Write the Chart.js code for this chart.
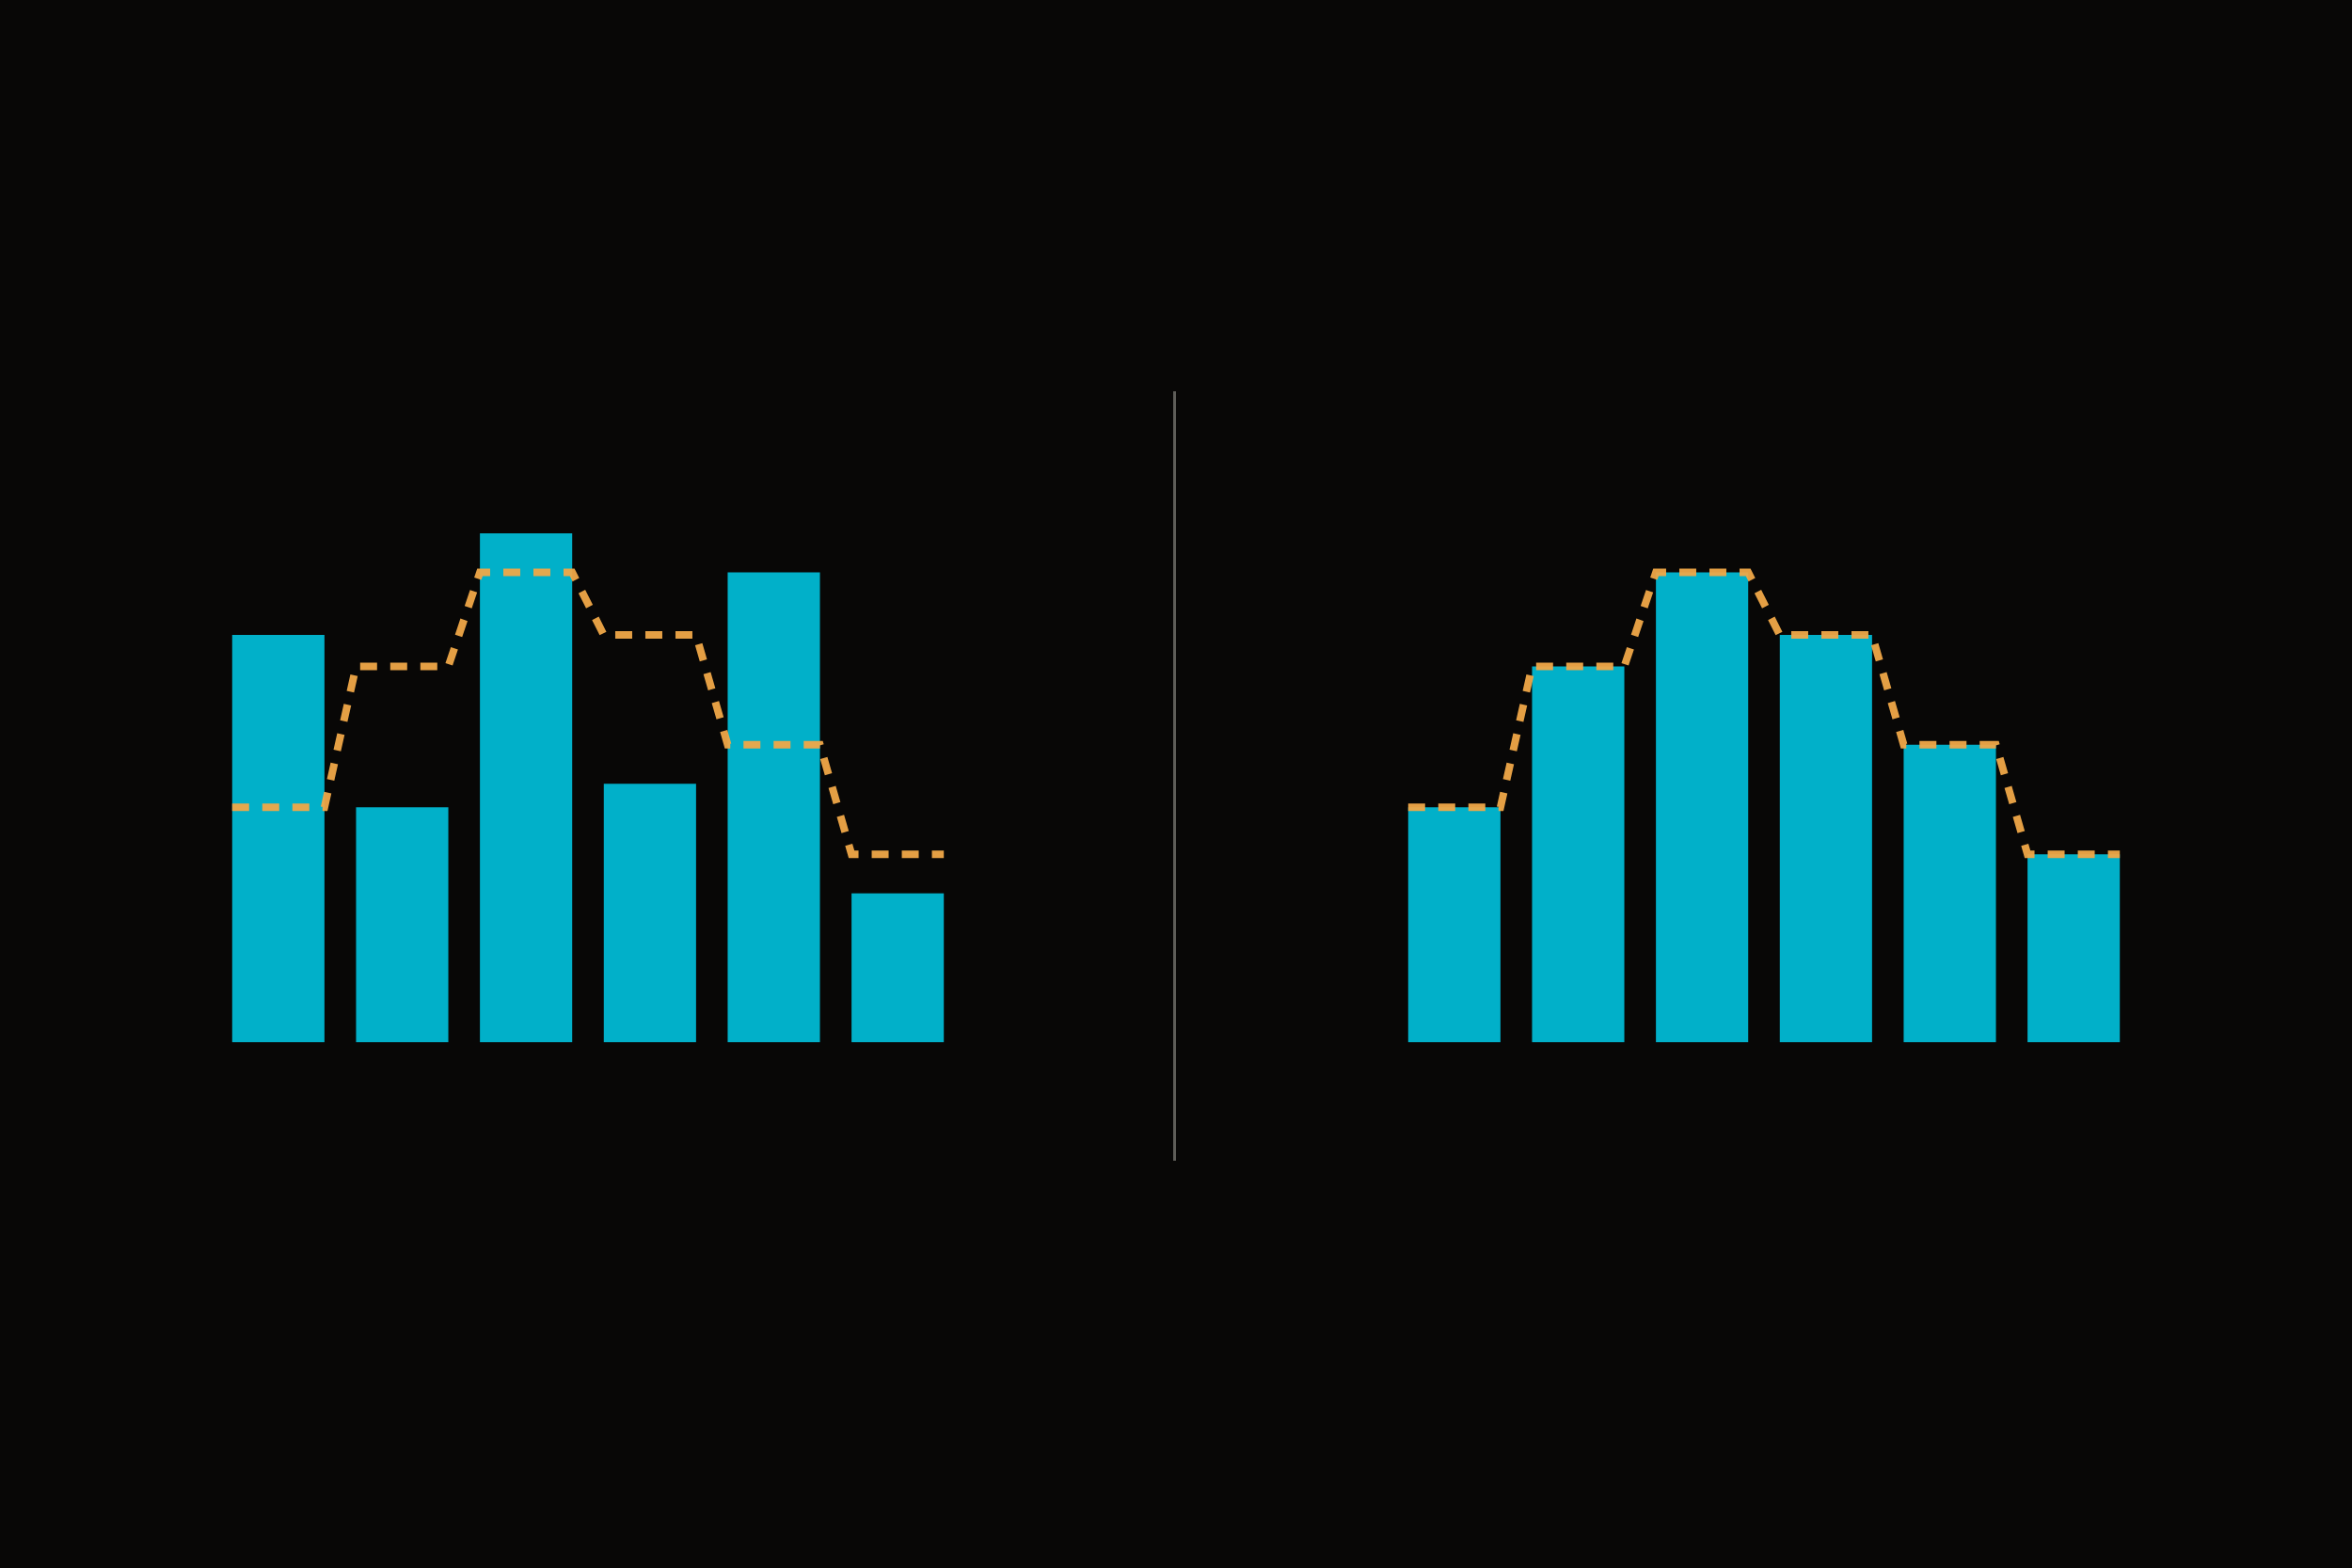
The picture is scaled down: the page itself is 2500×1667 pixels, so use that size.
<!DOCTYPE html>
<html>
<head>
<meta charset="utf-8">
<script src="https://cdn.jsdelivr.net/npm/chart.js@4"></script>
<style>
  html, body { margin: 0; padding: 0; background: #080706; }
  body { width: 2500px; height: 1667px; position: relative; overflow: hidden; }
  .panel { position: absolute; top: 442px; }
  #divider { position: absolute; left: 1247px; top: 416px; width: 3px; height: 818px; background: #5e5d58; }
</style>
</head>
<body>
<div class="panel" style="left:230px"><canvas id="left-chart" width="790" height="666"></canvas></div>
<div id="divider"></div>
<div class="panel" style="left:1480px"><canvas id="right-chart" width="790" height="666"></canvas></div>
<script>
const CATEGORIES = ['1', '2', '3', '4', '5', '6']
const LEFT_BARS = [26, 15, 32.5, 16.5, 30, 9.5]
const RIGHT_BARS = [15, 24, 30, 26, 19, 12]
const TARGET_LINE = [15, 24, 30, 26, 19, 12]

const BAR_COLOR = '#01b0c9'
const LINE_COLOR = 'rgba(240, 168, 72, 0.95)'
const BAR_FRACTION = 0.745

// the dashed line runs flat across each bar, then slants to the next one
function stepPoints(values) {
  const pts = []
  const half = BAR_FRACTION / 2
  values.forEach((v, i) => {
    pts.push({ x: i - half, y: v })
    pts.push({ x: i + half, y: v })
  })
  return pts
}

function makeChart(id, bars) {
  return new Chart(document.getElementById(id), {
    type: 'bar',
    data: {
      labels: CATEGORIES,
      datasets: [
        {
          type: 'bar',
          data: bars,
          xAxisID: 'x',
          backgroundColor: BAR_COLOR,
          borderWidth: 0,
          grouped: false,
          barPercentage: BAR_FRACTION,
          categoryPercentage: 1,
          order: 1
        },
        {
          type: 'line',
          data: stepPoints(TARGET_LINE),
          xAxisID: 'x2',
          borderColor: LINE_COLOR,
          borderWidth: 8,
          borderDash: [18, 14],
          borderCapStyle: 'butt',
          pointRadius: 0,
          tension: 0,
          fill: false,
          order: 0
        }
      ]
    },
    options: {
      responsive: false,
      devicePixelRatio: 1,
      animation: false,
      layout: { padding: 0 },
      plugins: {
        legend: { display: false },
        tooltip: { enabled: false }
      },
      scales: {
        x: { display: false, offset: true },
        x2: { type: 'linear', display: false, offset: false, min: -0.5, max: 5.5 },
        y: { display: false, min: 0, max: 40 }
      }
    }
  })
}

makeChart('left-chart', LEFT_BARS)
makeChart('right-chart', RIGHT_BARS)
</script>
</body>
</html>
